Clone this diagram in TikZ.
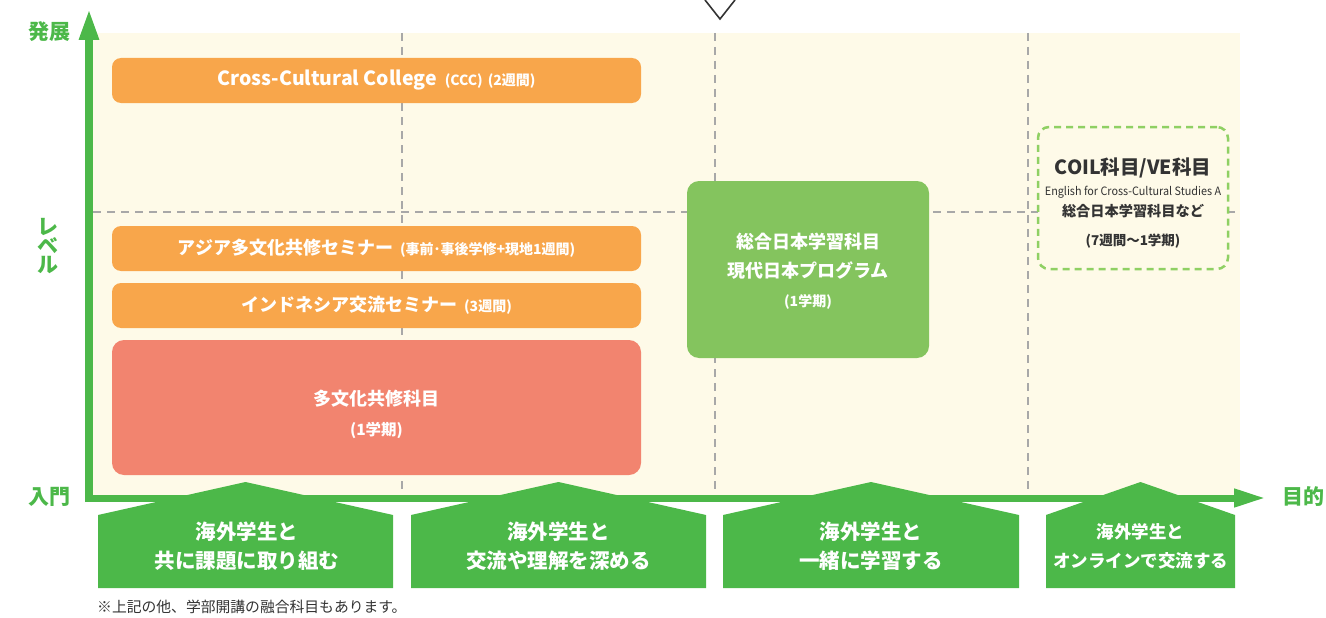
\documentclass[tikz,border=0pt]{standalone}
\usepackage{fontspec}
\setmainfont{Noto Sans CJK JP}
\usetikzlibrary{arrows.meta}
\definecolor{bgC}{HTML}{FEFAE8}
\definecolor{axisC}{HTML}{4CB849}
\definecolor{orangeC}{HTML}{F8A64B}
\definecolor{redC}{HTML}{F2846F}
\definecolor{gboxC}{HTML}{84C45E}
\definecolor{dgreenC}{HTML}{8FD063}
\definecolor{gridC}{HTML}{A8A8A8}
\definecolor{darkC}{HTML}{333333}
\tikzset{
  obox/.style={fill=orangeC, rounded corners=9pt, text=white, inner sep=0pt,
     minimum width=529pt, minimum height=45pt, font=\bfseries\fontsize{18}{22}\selectfont},
  rbox/.style={fill=redC, rounded corners=12pt, inner sep=0pt,
     minimum width=529pt, minimum height=135pt},
  gbox/.style={fill=gboxC, rounded corners=12pt, inner sep=0pt,
     minimum width=242pt, minimum height=177pt},
  dbox/.style={fill=bgC, draw=dgreenC, line width=2.5pt, dash pattern=on 7pt off 5pt,
     rounded corners=11pt, inner sep=0pt, minimum width=190pt, minimum height=142pt},
  boxtext/.style={text=white, inner sep=0pt, align=center, font=\bfseries\fontsize{18}{29}\selectfont},
  coiltext/.style={text=darkC, inner sep=0pt, align=center},
  grid/.style={draw=gridC, line width=1.2pt, dash pattern=on 8pt off 6pt},
  axis/.style={draw=axisC, line width=#1},
  axlabel/.style={text=axisC, font=\bfseries\fontsize{21}{23}\selectfont, inner sep=0pt},
  house/.style={fill=axisC},
  housetext/.style={text=white, align=center, inner sep=0pt,
     font=\bfseries\fontsize{20.5}{29}\selectfont},
  note/.style={text=darkC, anchor=west, inner sep=0pt, font=\fontsize{14.8}{17}\selectfont}
}
\newcommand{\smalltxt}{\fontsize{14}{16}\selectfont}
\begin{document}
\begin{tikzpicture}[x=1pt,y=-1pt]
\useasboundingbox (0,0) rectangle (1326,618);
% background
\fill[bgC] (93,33) rectangle (1240,495);
% grid
\coordinate (g1t) at (402,33); \coordinate (g1b) at (402,495);
\coordinate (g2t) at (715,33); \coordinate (g2b) at (715,495);
\coordinate (g3t) at (1028,33); \coordinate (g3b) at (1028,495);
\coordinate (ghl) at (93,212); \coordinate (ghr) at (1240,212);
\path[grid] (g1t) -- (g1b);
\path[grid] (g2t) -- (g2b);
\path[grid] (g3t) -- (g3b);
\path[grid] (ghl) -- (ghr);
% top V mark
\coordinate (va) at (705,0); \coordinate (vb) at (720,19); \coordinate (vc) at (735,0);
\draw[darkC, line width=1.6pt] (va) -- (vb) -- (vc);
% houses
\fill[house] (98,588) -- (98,515) -- (245.5,482) -- (393,515) -- (393,588) -- cycle;
\fill[house] (411,588) -- (411,515) -- (558.5,482) -- (706,515) -- (706,588) -- cycle;
\fill[house] (723,588) -- (723,515) -- (871,482) -- (1019,515) -- (1019,588) -- cycle;
\fill[house] (1046,588) -- (1046,515) -- (1140.5,482) -- (1235,515) -- (1235,588) -- cycle;
\node[housetext] (h1) at (247,546) {海外学生と\\共に課題に取り組む};
\node[housetext] (h2) at (558.5,546) {海外学生と\\交流や理解を深める};
\node[housetext] (h3) at (871,546) {海外学生と\\一緒に学習する};
\node[housetext, font=\bfseries\fontsize{17.5}{29}\selectfont] (h4) at (1140.5,546) {海外学生と\\オンラインで交流する};
% axes
\coordinate (xo) at (85,498); \coordinate (xe) at (1266,498);
\coordinate (yo) at (89,502); \coordinate (ye) at (89,8);
\draw[axis=7pt, -{Triangle[length=32pt,width=17pt]}, color=axisC] (xo) -- (xe);
\draw[axis=8pt, -{Triangle[length=32pt,width=18pt]}, color=axisC] (yo) -- (ye);
\node[axlabel] (lup) at (49,32) {発展};
\node[axlabel] (llev) at (48,246) {\shortstack{レ\\[-1pt]ベ\\[-1pt]ル}};
\node[axlabel] (lin) at (49,497) {入門};
\node[axlabel] (lgoal) at (1303,497) {目的};
% boxes
\node[obox] (ccc) at (376.5,80.5) {{\fontsize{19.5}{22}\selectfont Cross-Cultural College}\hspace{8pt}{\smalltxt (CCC)\hspace{5pt}(2週間)}};
\node[obox] (asia) at (376.5,248.5) {アジア多文化共修セミナー\hspace{7pt}{\smalltxt (事前･事後学修+現地1週間)}};
\node[obox] (indo) at (376.5,305.5) {インドネシア交流セミナー\hspace{7pt}{\smalltxt (3週間)}};
\node[rbox] (tabun) at (376.5,407.5) {};
\node[boxtext] (tabunT) at (tabun.center) [yshift=-7pt] {多文化共修科目\\[1pt]{\fontsize{15.5}{18}\selectfont (1学期)}};
\node[gbox] (sogo) at (808,269.5) {};
\node[boxtext] (sogoT) at (sogo.center) [yshift=-1.5pt] {総合日本学習科目\\現代日本プログラム\\{\smalltxt (1学期)}};
\node[dbox] (coil) at (1133,198) {};
\node[coiltext] (coilT) at (coil.center) [yshift=-5pt] {{\bfseries\fontsize{19.5}{22}\selectfont COIL科目/VE科目}\\[7pt]
  {\fontsize{11.5}{13}\selectfont\scalebox{0.94}[1]{English for Cross-Cultural Studies A}}\\[5pt]
  {\bfseries\fontsize{14.2}{17}\selectfont 総合日本学習科目など}\\[15pt]
  {\bfseries\fontsize{13.5}{15}\selectfont (7週間〜1学期)}};
% note
\node[note] (fn) at (97,607) {※上記の他、学部開講の融合科目もあります。};
\end{tikzpicture}
\end{document}
